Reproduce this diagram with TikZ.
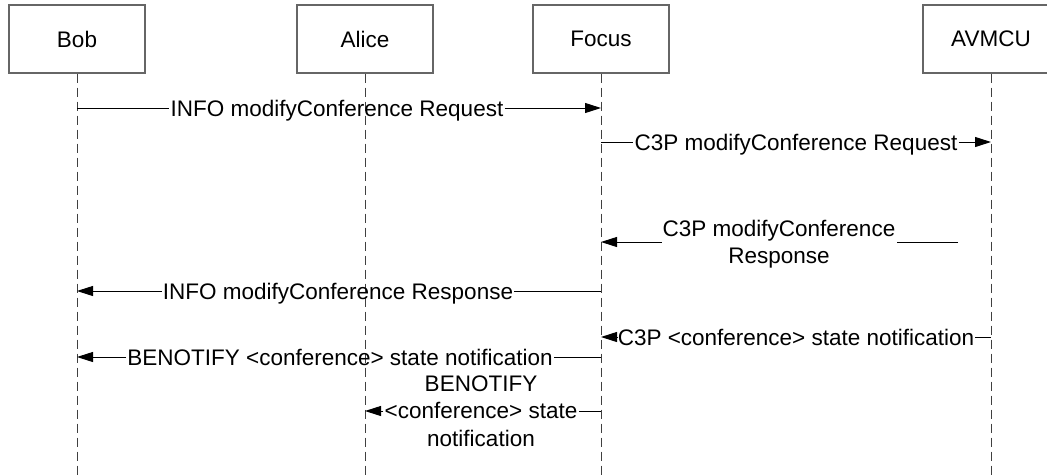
\documentclass[tikz,border=0pt]{standalone}
\usepackage{fontspec}
\setmainfont{Liberation Sans}
\usetikzlibrary{arrows.meta}
\begin{document}
\begin{tikzpicture}[x=1pt,y=-1pt,
  font=\fontsize{22.5}{27.5}\selectfont,
  actor/.style={draw=black!60, line width=1.2pt, minimum width=136pt, minimum height=68pt, inner sep=0pt},
  life/.style={draw=black!75, line width=1pt, dash pattern=on 9pt off 5pt},
  msg/.style={draw=black, line width=1pt},
  tip/.style={-{Triangle[length=16pt,width=10pt]}},
  lbl/.style={inner xsep=1pt, inner ysep=0pt, text height=16pt, text depth=0pt},
  mlbl/.style={inner xsep=1pt, inner ysep=0pt, align=center}]
\clip (0,0) rectangle (1047,474);
\fill[white] (0,0) rectangle (1047,474);
% actors
\node[actor] (bob)   at (77,39)  {Bob};
\node[actor] (alice) at (365,39) {Alice};
\node[actor] (focus) at (601,39) {Focus};
\node[actor] (avmcu) at (991,39) {AVMCU};
% lifeline ends
\coordinate (bobE)   at (77,480);
\coordinate (aliceE) at (365,480);
\coordinate (focusE) at (601,480);
\coordinate (avmcuE) at (991,480);
\draw[life] (bob.south) -- (bobE);
\draw[life] (alice.south) -- (aliceE);
\draw[life] (focus.south) -- (focusE);
\draw[life] (avmcu.south) -- (avmcuE);
% message 1
\coordinate (b1) at (77,108);
\coordinate (f1) at (601,108);
\node[lbl] (m1) at (337,108) {INFO modifyConference Request};
\draw[msg] (b1) -- (m1.west);
\draw[msg,tip] (m1.east) -- (f1);
% message 2
\coordinate (f2) at (601,142);
\coordinate (a2) at (991,142);
\node[lbl] (m2) at (796,142) {C3P modifyConference Request};
\draw[msg] (f2) -- (m2.west);
\draw[msg,tip] (m2.east) -- (a2);
% message 3
\coordinate (a3) at (958,242);
\coordinate (f3) at (601,242);
\node[mlbl] (m3) at (779,244) {C3P modifyConference\\Response};
\draw[msg] (a3) -- (a3 -| m3.east);
\draw[msg,tip] (f3 -| m3.west) -- (f3);
% message 4
\coordinate (f4) at (601,291);
\coordinate (b4) at (77,291);
\node[lbl] (m4) at (338,291) {INFO modifyConference Response};
\draw[msg] (f4) -- (m4.east);
\draw[msg,tip] (m4.west) -- (b4);
% message 5
\coordinate (a5) at (991,337);
\coordinate (f5) at (601,337);
\node[lbl] (m5) at (796,337) {C3P <conference> state notification};
\draw[msg] (a5) -- (m5.east);
\draw[msg,tip] (m5.west) -- (f5);
% message 6
\coordinate (f6) at (601,357);
\coordinate (b6) at (77,357);
\node[lbl] (m6) at (340,357) {BENOTIFY <conference> state notification};
\draw[msg] (f6) -- (m6.east);
\draw[msg,tip] (m6.west) -- (b6);
% message 7
\coordinate (f7) at (601,411);
\coordinate (al7) at (365,411);
\node[mlbl] (m7) at (481,411) {BENOTIFY\\<conference> state\\notification};
\draw[msg] (f7) -- (f7 -| m7.east);
\draw[msg,tip] (al7 -| m7.west) -- (al7);
\end{tikzpicture}
\end{document}
